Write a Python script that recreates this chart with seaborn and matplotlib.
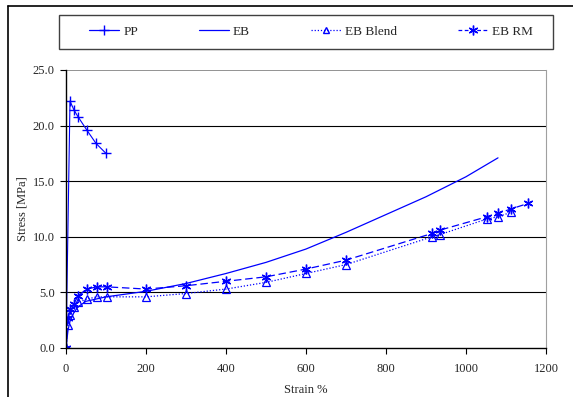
import numpy as np
import pandas as pd
import matplotlib
matplotlib.use("Agg")
import matplotlib.pyplot as plt
from matplotlib.lines import Line2D
from matplotlib.patches import Rectangle
import seaborn as sns

# data
pp_strain = [0, 10, 20, 30, 52, 75, 100]
pp_stress = [0.0, 22.2, 21.4, 20.8, 19.6, 18.4, 17.5]

eb_strain = [0, 5, 10, 20, 30, 50, 75, 100, 200, 300, 400, 500, 600, 700, 800, 900, 950, 1000, 1080]
eb_stress = [0.0, 1.6, 2.4, 3.2, 3.7, 4.2, 4.4, 4.6, 5.1, 5.8, 6.7, 7.7, 8.9, 10.4, 12.0, 13.6, 14.5, 15.4, 17.1]

blend_strain = [0, 5, 10, 20, 30, 52, 77, 102, 200, 300, 400, 500, 600, 700, 915, 935, 1052, 1080, 1112]
blend_stress = [0.0, 2.1, 3.0, 3.7, 4.1, 4.4, 4.6, 4.6, 4.6, 4.9, 5.3, 5.9, 6.7, 7.5, 10.0, 10.2, 11.6, 11.8, 12.2]

rm_strain = [0, 5, 10, 20, 30, 52, 77, 102, 200, 300, 400, 500, 600, 700, 915, 935, 1052, 1080, 1112, 1155]
rm_stress = [0.0, 2.7, 3.5, 4.0, 4.7, 5.3, 5.5, 5.5, 5.3, 5.6, 6.0, 6.4, 7.1, 7.9, 10.3, 10.6, 11.8, 12.1, 12.5, 13.0]

labels = ["PP", "EB", "EB Blend", "EB RM"]

blue = "#0000FF"
asterisk = (6, 2, 0)
dotted = (0, (1, 1.5))
dashed = (0, (6, 3))

sns.set_style("white")
plt.rcParams["font.family"] = ["Liberation Serif", "DejaVu Serif"]
plt.rcParams["font.size"] = 9

W, H = 573, 397
fig = plt.figure(figsize=(W / 100, H / 100), dpi=100)
ax = fig.add_axes([66 / W, 1 - 348 / H, 480 / W, 278 / H])

sns.lineplot(x=pp_strain, y=pp_stress, ax=ax, sort=False, estimator=None, color=blue,
             lw=0.8, marker="+", markersize=6.5, mew=1.0, mec=blue)
sns.lineplot(x=eb_strain, y=eb_stress, ax=ax, sort=False, estimator=None, color=blue, lw=0.9)
sns.lineplot(x=blend_strain, y=blend_stress, ax=ax, sort=False, estimator=None, color=blue,
             lw=0.9, linestyle=dotted, marker="^", markersize=6, mfc="none", mec=blue, mew=0.9)
sns.lineplot(x=rm_strain, y=rm_stress, ax=ax, sort=False, estimator=None, color=blue,
             lw=0.9, linestyle=dashed, marker=asterisk, markersize=7, mew=1.0, mec=blue)

ax.set_xlim(0, 1200)
ax.set_ylim(0, 25)
ax.set_xticks(np.arange(0, 1201, 200))
ax.set_yticks(np.arange(0, 25.1, 5))
ax.set_yticklabels([f"{v:.1f}" for v in np.arange(0, 25.1, 5)])
ax.tick_params(axis="x", direction="out", length=4, width=0.8, color="black", labelsize=9, pad=7)
ax.tick_params(axis="y", direction="out", length=4, width=0.8, color="black", labelsize=9, pad=4)
ax.xaxis.set_ticks_position("bottom")
ax.yaxis.set_ticks_position("left")

for v in [5, 10, 15, 20]:
    ax.axhline(v, color="black", lw=0.8, zorder=0)
ax.axhline(25, color="#808080", lw=1.2, zorder=0)

ax.spines["left"].set_color("black")
ax.spines["bottom"].set_color("black")
ax.spines["left"].set_linewidth(1.0)
ax.spines["bottom"].set_linewidth(1.0)
ax.spines["right"].set_color("#a0a0a0")
ax.spines["top"].set_visible(False)

ax.set_xlabel("Strain %", fontsize=9, labelpad=6)
ax.set_ylabel("Stress [MPa]", fontsize=9, labelpad=3)

# outer chart border
fig.add_artist(Line2D([8 / W, 8 / W], [0, 1 - 6 / H], transform=fig.transFigure, color="black", lw=1.2))
fig.add_artist(Line2D([8 / W, 1], [1 - 6 / H, 1 - 6 / H], transform=fig.transFigure, color="black", lw=1.2))

# legend box
fig.add_artist(Rectangle((59 / W, 1 - 49 / H), 494 / W, 34 / H, transform=fig.transFigure,
                         fill=False, edgecolor="#404040", lw=1.0))
handles = [
    Line2D([], [], color=blue, lw=0.9, marker="+", markersize=7),
    Line2D([], [], color=blue, lw=0.9),
    Line2D([], [], color=blue, lw=0.9, linestyle=dotted, marker="^", markersize=5, mfc="none"),
    Line2D([], [], color=blue, lw=0.9, linestyle=(0, (3, 2)), marker=asterisk, markersize=7),
]
fig.legend(handles, labels, ncol=4, frameon=False, loc="center", bbox_to_anchor=(311 / W, 1 - 32 / H),
           fontsize=9.5, handlelength=2.3, handletextpad=0.3, columnspacing=4.6)

fig.savefig("out.png", dpi=100)
